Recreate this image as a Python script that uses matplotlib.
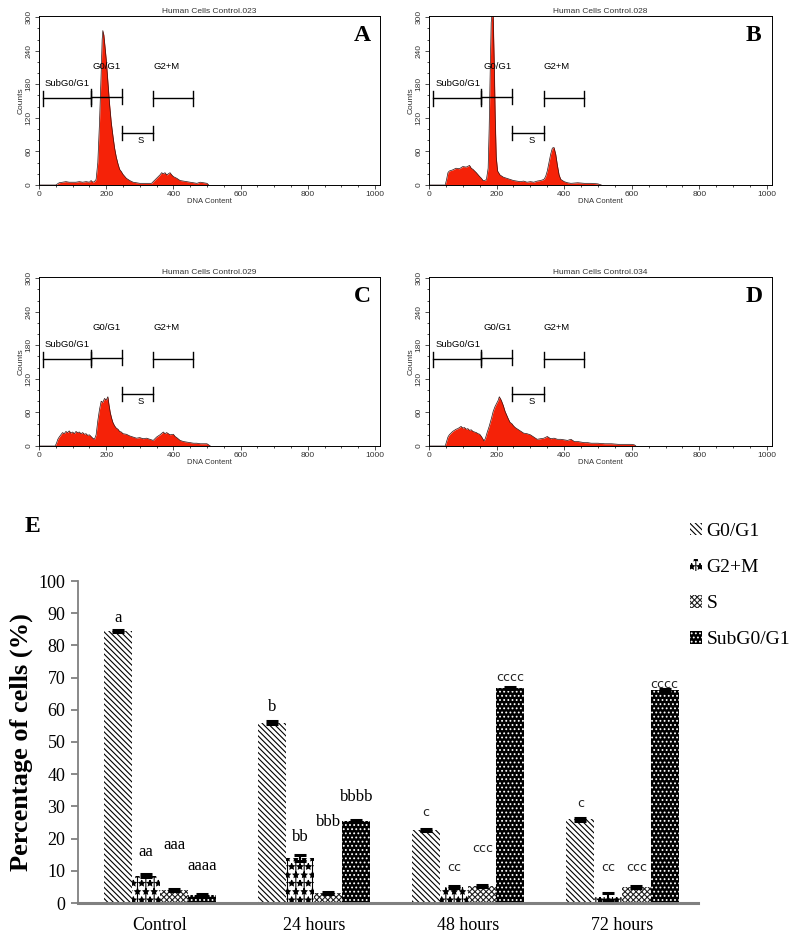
import matplotlib
matplotlib.use('Agg')
import matplotlib.pyplot as plt
import numpy as np
from matplotlib.patches import Patch

plt.rcParams['font.family'] = ['Liberation Sans', 'DejaVu Sans']
plt.rcParams['hatch.linewidth'] = 0.8

# ---- flow cytometry histograms (DNA content, counts) ----
hist_titles = ['Human Cells Control.023', 'Human Cells Control.028',
               'Human Cells Control.029', 'Human Cells Control.034']
panel_letters = ['A', 'B', 'C', 'D']

dna_a = [0, 50, 55, 60, 70, 80, 90, 100, 110, 120, 130, 140, 150, 155, 160, 165, 170, 175, 180, 185,
         188, 190, 193, 196, 200, 205, 210, 215, 220, 225, 230, 235, 240, 245, 250, 260, 270, 280,
         290, 300, 320, 335, 340, 350, 360, 365, 370, 375, 380, 390, 395, 400, 410, 420, 430, 440,
         450, 460, 470, 480, 490, 500, 505]
cnt_a = [0, 0, 2, 4, 5, 6, 5, 5, 5, 6, 5, 6, 5, 8, 5, 6, 10, 40, 110, 200,
         260, 276, 268, 250, 225, 185, 145, 112, 88, 66, 50, 38, 28, 24, 19, 12, 8, 5,
         4, 3, 3, 3, 6, 12, 18, 22, 20, 22, 18, 22, 18, 15, 12, 8, 7, 6,
         5, 4, 3, 5, 4, 3, 0]

dna_b = [0, 48, 52, 56, 60, 70, 80, 90, 100, 110, 120, 125, 130, 140, 150, 155, 160, 165, 170, 175,
         178, 181, 184, 187, 190, 193, 196, 199, 203, 210, 220, 230, 240, 250, 260, 270, 280, 290,
         300, 310, 320, 330, 340, 345, 350, 355, 360, 365, 370, 375, 380, 385, 390, 400, 410, 420,
         440, 460, 480, 500, 510]
cnt_b = [0, 0, 10, 22, 25, 27, 30, 29, 33, 32, 35, 30, 28, 22, 15, 12, 8, 8, 10, 30,
         100, 200, 290, 310, 300, 220, 120, 50, 25, 18, 14, 12, 10, 8, 7, 6, 7, 5,
         6, 5, 7, 8, 10, 15, 25, 40, 55, 66, 67, 55, 35, 18, 10, 6, 4, 3,
         4, 3, 3, 2, 0]

dna_c = [0, 48, 52, 56, 60, 65, 70, 75, 80, 85, 90, 95, 100, 105, 110, 115, 120, 125, 130, 135,
         140, 145, 150, 155, 160, 165, 170, 175, 180, 185, 190, 195, 200, 205, 208, 212, 216, 220,
         225, 230, 235, 240, 245, 250, 260, 270, 280, 290, 300, 310, 320, 330, 340, 345, 350, 360,
         370, 375, 380, 390, 400, 405, 410, 420, 430, 440, 450, 460, 470, 480, 490, 500, 505, 510]
cnt_c = [0, 0, 5, 12, 16, 20, 24, 22, 26, 24, 27, 23, 25, 22, 26, 24, 25, 22, 24, 21,
         22, 19, 20, 17, 14, 12, 20, 45, 65, 80, 78, 85, 82, 88, 75, 60, 50, 42,
         36, 32, 30, 26, 25, 22, 21, 18, 16, 14, 15, 13, 14, 12, 10, 13, 16, 20,
         25, 22, 24, 20, 21, 17, 15, 10, 8, 7, 6, 5, 5, 4, 4, 4, 2, 0]

dna_d = [0, 48, 52, 56, 60, 65, 70, 75, 80, 85, 90, 95, 100, 105, 110, 115, 120, 125, 130, 135,
         140, 145, 150, 155, 160, 163, 167, 172, 178, 185, 190, 195, 200, 205, 208, 212, 215, 220,
         225, 230, 235, 240, 245, 250, 255, 260, 270, 280, 290, 300, 310, 320, 330, 340, 350, 360,
         370, 380, 390, 400, 410, 420, 430, 440, 450, 460, 470, 480, 490, 500, 520, 540, 560, 580,
         600, 608, 612]
cnt_d = [0, 0, 8, 16, 20, 23, 26, 28, 30, 31, 33, 35, 32, 33, 30, 31, 28, 29, 26, 25,
         24, 22, 21, 17, 12, 9, 14, 24, 35, 50, 62, 70, 76, 82, 88, 84, 80, 72,
         62, 55, 48, 42, 40, 36, 33, 31, 27, 23, 22, 20, 16, 12, 13, 14, 17, 13,
         14, 12, 12, 11, 10, 12, 8, 8, 7, 6, 6, 5, 5, 5, 4, 4, 3, 3,
         3, 2, 0]

hist_x = [dna_a, dna_b, dna_c, dna_d]
hist_y = [cnt_a, cnt_b, cnt_c, cnt_d]

# gates: name, start, end, level
gate_names = ['SubG0/G1', 'G0/G1', 'S', 'G2+M']
gate_start = [12, 155, 247, 340]
gate_end = [155, 247, 340, 458]
gate_level = [155, 158, 93, 155]

# ---- bar chart (E) ----
groups = ['Control', '24 hours', '48 hours', '72 hours']
phases = ['G0/G1', 'G2+M', 'S', 'SubG0/G1']
g0g1 = [84.5, 56.0, 22.7, 26.0]
g2m = [8.5, 14.0, 5.0, 2.0]
s_phase = [4.0, 3.0, 5.2, 5.0]
subg0 = [2.5, 25.5, 66.8, 66.0]
err_g0g1 = [0.4, 0.5, 0.4, 0.4]
err_g2m = [0.4, 1.0, 0.3, 1.0]
err_s = [0.3, 0.3, 0.3, 0.3]
err_subg0 = [0.2, 0.4, 0.4, 0.4]
sig_g0g1 = ['a', 'b', 'c', 'c']
sig_g2m = ['aa', 'bb', 'cc', 'cc']
sig_s = ['aaa', 'bbb', 'ccc', 'ccc']
sig_subg0 = ['aaaa', 'bbbb', 'cccc', 'cccc']
# heights (in %) where the letters sit
sigy_g0g1 = [88.5, 61, 28, 31]
sigy_g2m = [15.8, 20.5, 11, 11]
sigy_s = [18, 25, 17, 11]
sigy_subg0 = [11.5, 33, 70, 68]

fig = plt.figure(figsize=(8, 9.48), dpi=100)

W, H = 800.0, 948.0
hist_boxes = [(39, 16, 380, 185), (429, 16, 772, 185),
              (39, 277, 380, 446), (429, 277, 772, 446)]
red = '#f52208'

for i in range(4):
    x0, y0, x1, y1 = hist_boxes[i]
    ax = fig.add_axes([x0 / W, 1 - y1 / H, (x1 - x0) / W, (y1 - y0) / H])
    ax.fill_between(hist_x[i], hist_y[i], 0, color=red, lw=0)
    ax.plot(hist_x[i], hist_y[i], color='#301010', lw=0.5)
    ax.set_xlim(0, 1015)
    ax.set_ylim(0, 302)
    ax.set_xticks([0, 200, 400, 600, 800, 1000])
    ax.set_yticks([0, 60, 120, 180, 240, 300])
    ax.set_xticks(np.arange(0, 1001, 50), minor=True)
    ax.set_yticks(np.arange(0, 301, 20), minor=True)
    ax.tick_params(labelsize=6, length=3, width=0.6, pad=1.5, colors='#333333')
    ax.tick_params(which='minor', length=1.5, width=0.5)
    for lab in ax.get_yticklabels():
        lab.set_rotation(90)
        lab.set_va('center')
    for sp in ax.spines.values():
        sp.set_linewidth(0.7)
    ax.set_title(hist_titles[i], fontsize=6, pad=2, color='#333333')
    ax.set_xlabel('DNA Content', fontsize=5.5, labelpad=0, color='#333333')
    ax.set_ylabel('Counts', fontsize=6, labelpad=1, color='#333333')
    # gates
    for j in range(4):
        ax.plot([gate_start[j], gate_end[j]], [gate_level[j]] * 2, color='black', lw=1)
        for xx in (gate_start[j], gate_end[j]):
            ax.plot([xx, xx], [gate_level[j] - 13, gate_level[j] + 13], color='black', lw=1)
    ax.text(18, 181, 'SubG0/G1', fontsize=6.8, va='center')
    ax.text(160, 211, 'G0/G1', fontsize=6.8, va='center')
    ax.text(340, 211, 'G2+M', fontsize=6.8, va='center')
    ax.text(304, 80, 'S', fontsize=6.8, va='center', ha='center')
    ax.text(0.947, 0.885, panel_letters[i], transform=ax.transAxes, fontsize=17,
            fontweight='bold', family='Liberation Serif', ha='center', va='center')

# ---- panel E ----
axe = fig.add_axes([78 / W, 1 - 903 / H, 620 / W, 322 / H])
xpos = np.arange(len(groups))
w = 0.182
series = [g0g1, g2m, s_phase, subg0]
errs = [err_g0g1, err_g2m, err_s, err_subg0]
sigs = [sig_g0g1, sig_g2m, sig_s, sig_subg0]
sigys = [sigy_g0g1, sigy_g2m, sigy_s, sigy_subg0]
faces = ['white', 'white', 'white', 'black']
hatch_cols = ['black', 'black', '#222222', 'white']
hatches = ['\\\\\\\\\\\\', '||**', 'xxxxxx', '....']

for k in range(4):
    xs = xpos + (k - 1.5) * w
    axe.bar(xs, series[k], width=w, color=faces[k], edgecolor=hatch_cols[k],
            hatch=hatches[k], lw=0, zorder=2)
    axe.errorbar(xs, series[k], yerr=errs[k], fmt='none', ecolor='black',
                 elinewidth=1.5, capsize=4, capthick=2.2, zorder=3)
    for g in range(4):
        if sigs[k][g].startswith('c'):
            axe.text(xs[g], sigys[k][g], sigs[k][g], fontsize=9, ha='center', va='center',
                     family='DejaVu Sans', color='#222222')
        else:
            axe.text(xs[g], sigys[k][g], sigs[k][g], fontsize=12, ha='center', va='center',
                     family='Liberation Serif')

axe.set_xlim(-0.532, 3.49)
axe.set_ylim(0, 100)
axe.set_yticks(np.arange(0, 101, 10))
axe.set_xticks(xpos)
axe.set_xticklabels(groups, family='Liberation Serif', fontsize=13)
axe.tick_params(axis='x', length=0, pad=10)
axe.tick_params(axis='y', length=5, width=1.3, color='#808080', pad=4)
for lab in axe.get_yticklabels():
    lab.set_family('Liberation Serif')
    lab.set_fontsize(13)
axe.spines['top'].set_visible(False)
axe.spines['right'].set_visible(False)
axe.spines['left'].set_color('#808080')
axe.spines['left'].set_linewidth(1.3)
axe.spines['bottom'].set_color('#808080')
axe.spines['bottom'].set_linewidth(2.2)
axe.set_ylabel('Percentage of cells (%)', family='Liberation Serif', fontsize=19,
               fontweight='bold', labelpad=4)

handles = [Patch(facecolor=faces[k], edgecolor=hatch_cols[k], hatch=hatches[k], lw=0)
           for k in range(4)]
fig.legend(handles, phases, loc='upper left', bbox_to_anchor=(690 / W, 1 - 523 / H),
           frameon=False, prop={'family': 'Liberation Serif', 'size': 14},
           handlelength=0.6, handleheight=0.6, handletextpad=0.25, labelspacing=0.98,
           borderaxespad=0, borderpad=0)

fig.text(25 / W, 1 - 527 / H, 'E', family='Liberation Serif', fontsize=17,
         fontweight='bold', ha='left', va='center')

fig.savefig('out.png', dpi=100)
